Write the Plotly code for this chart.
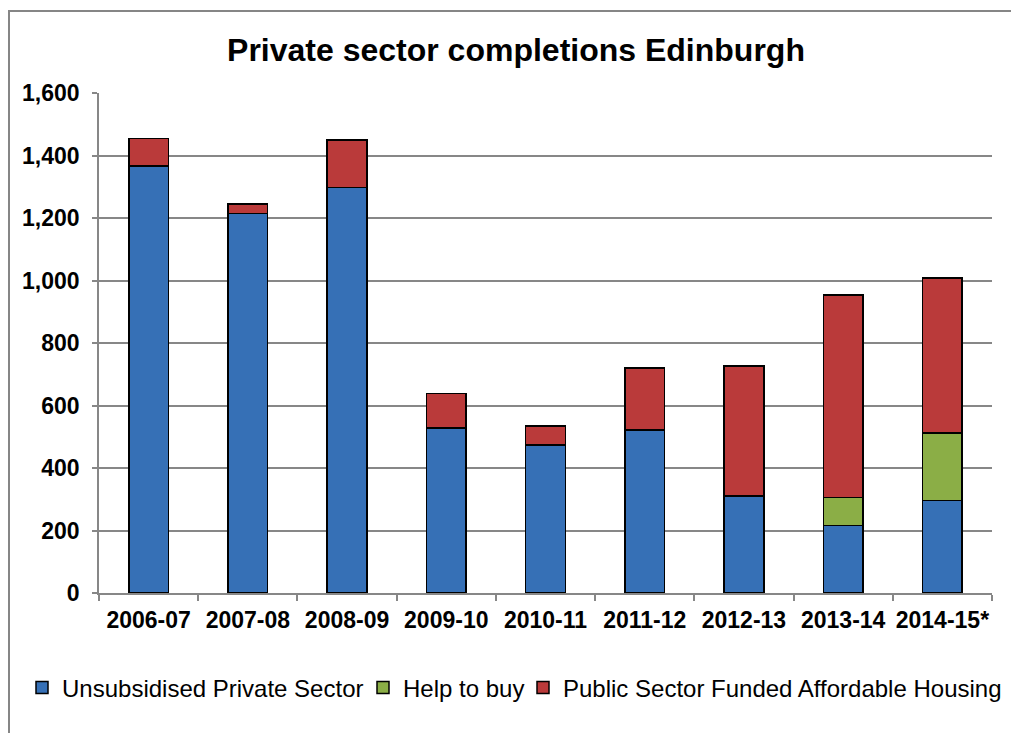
import plotly.graph_objects as go

# Financial years and completions by tenure
years = ["2006-07", "2007-08", "2008-09", "2009-10", "2010-11",
         "2011-12", "2012-13", "2013-14", "2014-15*"]
unsubsidised = [1366, 1214, 1298, 528, 473, 521, 310, 216, 296]
help_to_buy = [0, 0, 0, 0, 0, 0, 0, 89, 216]
affordable = [89, 31, 152, 110, 62, 199, 416, 649, 496]

series = [
    ("Unsubsidised Private Sector", unsubsidised, "#3670B6", "legend"),
    ("Help to buy", help_to_buy, "#8BAE46", "legend2"),
    ("Public Sector Funded Affordable Housing", affordable, "#BA3A3A", "legend3"),
]

FONT = "Liberation Sans, Arial, sans-serif"
GRID = "#878787"

fig = go.Figure()
for name, vals, color, leg in series:
    fig.add_trace(go.Bar(
        x=years, y=vals, name=name, legend=leg, showlegend=True,
        marker=dict(color=color, line=dict(color="black", width=1.5)),
        width=0.4,
    ))

W, H = 1011, 733
L, R, T, B = 99, 19, 93, 140
pw, ph = W - L - R, H - T - B

def px_x(p):
    return (p - L) / pw

def px_y(p):
    return (H - B - p) / ph

def legend_at(left):
    return dict(
        orientation="h",
        xref="container", yref="container",
        x=left / W, xanchor="left",
        y=1 - 688 / H, yanchor="middle",
        font=dict(size=24, family=FONT, color="black"),
        bgcolor="rgba(0,0,0,0)",
    )

fig.update_layout(
    width=W, height=H,
    margin=dict(l=L, r=R, t=T, b=B, autoexpand=False),
    barmode="stack",
    showlegend=True,
    paper_bgcolor="white",
    plot_bgcolor="white",
    font=dict(family=FONT, color="black"),
    title=dict(
        text="<b>Private sector completions Edinburgh</b>",
        x=516 / W, xref="container", xanchor="center",
        y=1 - 50 / H, yanchor="middle",
        font=dict(size=32, family=FONT, color="black"),
    ),
    legend=legend_at(22),
    legend2=legend_at(363),
    legend3=legend_at(523),
    xaxis=dict(
        type="category",
        showline=True, linecolor=GRID, linewidth=1.5,
        ticks="outside", tickson="boundaries", ticklen=6,
        tickcolor=GRID, tickwidth=1.5, tickangle=0,
        ticklabelstandoff=6,
        tickfont=dict(size=23, family=FONT, color="black", weight="bold"),
        showgrid=False,
    ),
    yaxis=dict(
        range=[0, 1600], dtick=200, tickformat=",",
        showline=True, linecolor=GRID, linewidth=1.5,
        ticks="outside", ticklen=5, tickcolor=GRID, tickwidth=1.5,
        ticklabelstandoff=8,
        showgrid=True, gridcolor=GRID, gridwidth=1.5,
        zeroline=False,
        tickfont=dict(size=23, family=FONT, color="black", weight="bold"),
    ),
    shapes=[dict(
        type="rect", xref="paper", yref="paper",
        x0=px_x(9), x1=px_x(1030), y0=px_y(760), y1=px_y(11),
        line=dict(color="#868686", width=2), fillcolor="rgba(0,0,0,0)",
        layer="below",
    )],
)

fig.write_html("out.html")
